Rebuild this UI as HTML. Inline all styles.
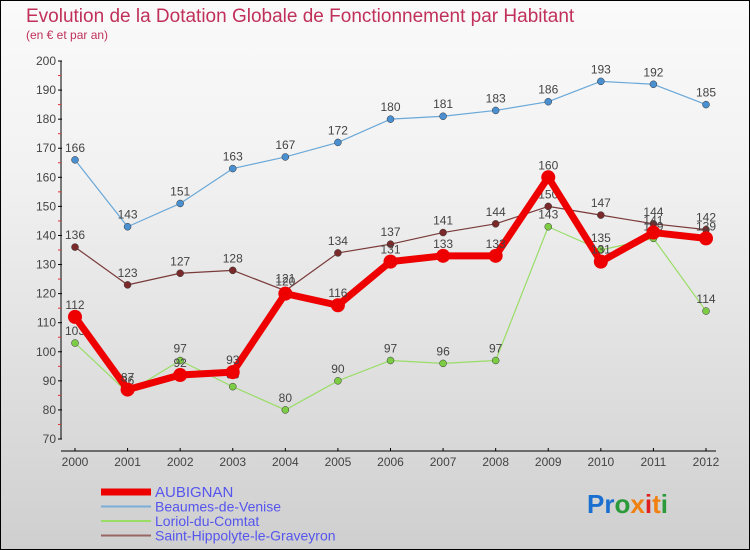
<!DOCTYPE html>
<html><head><meta charset="utf-8"><style>
body{margin:0;}
#c{position:relative;width:750px;height:550px;box-sizing:border-box;border:1px solid #000;background:linear-gradient(#fafafa,#f2f2f2 30%,#cfcfcf);font-family:"Liberation Sans",sans-serif;overflow:hidden}
svg text{font-family:"Liberation Sans",sans-serif}
</style></head><body>
<div id="c">
<svg id="s" width="750" height="550" style="position:absolute;left:-1px;top:-1px">
<text x="26" y="22" font-size="19" fill="#c0305a">Evolution de la Dotation Globale de Fonctionnement par Habitant</text>
<text x="26" y="39" font-size="12" fill="#c0305a">(en € et par an)</text>
<g id="g"></g>
<text x="587" y="513" font-size="26" font-weight="bold"><tspan fill="#1a6fd0">Pr</tspan><tspan fill="#2a9a3a">o</tspan><tspan fill="#f08010">x</tspan><tspan fill="#e02020">i</tspan><tspan fill="#f08010">t</tspan><tspan fill="#2a9a3a">i</tspan></text>
</svg>
</div>
<script>
const years=[2000,2001,2002,2003,2004,2005,2006,2007,2008,2009,2010,2011,2012];
const yTicks=[70,80,90,100,110,120,130,140,150,160,170,180,190,200];
const aubignan=[112,87,92,93,120,116,131,133,133,160,131,141,139];
const beaumes=[166,143,151,163,167,172,180,181,183,186,193,192,185];
const loriol=[103,86,97,88,80,90,97,96,97,143,135,139,114];
const hippolyte=[136,123,127,128,121,134,137,141,144,150,147,144,142];
const NS="http://www.w3.org/2000/svg";
const g=document.getElementById('g');
function X(i){return 75+i*(706-75)/(years.length-1);}
function Y(v){return 439-(v-70)*(439-61)/130;}
function el(t,a,p){const e=document.createElementNS(NS,t);for(const k in a)e.setAttribute(k,a[k]);(p||g).appendChild(e);return e;}
// axes
const ya=el('line',{x1:61,y1:Y(200),x2:61,y2:Y(70),stroke:'#000'});


const xa=el('line',{x1:61,y1:451,x2:716,y2:451,stroke:'#000'});


yTicks.forEach(v=>{
 el('line',{x1:58,y1:Y(v),x2:62,y2:Y(v),stroke:'#000'});
 if(v<200) el('line',{x1:58,y1:Y(v+5),x2:61,y2:Y(v+5),stroke:'#e03030'});
 const t=el('text',{x:56,y:Y(v)+4,'font-size':12,'text-anchor':'end',fill:'#444'});t.textContent=v;
 
 
});
years.forEach((y,i)=>{
 el('line',{x1:X(i),y1:448,x2:X(i),y2:451,stroke:'#000'});
 const t=el('text',{x:X(i),y:466,'font-size':12,'text-anchor':'middle',fill:'#444'});t.textContent=y;
 
 
});
function series(data,color,w,r,name,dot,labelDy){
 const p=el('polyline',{points:data.map((v,i)=>X(i)+','+Y(v)).join(' '),fill:'none',stroke:color,'stroke-width':w,'stroke-linejoin':'round'});
 
 
 data.forEach((v,i)=>{
  const c=el('circle',{cx:X(i),cy:Y(v),r:r,fill:dot,stroke:w>3?color:'#333','stroke-width':w>3?0:0.5});
  
  
  const t=el('text',{x:X(i),y:Y(v)-8,'font-size':12,'text-anchor':'middle',fill:'#444'});t.textContent=v;
  
  
 });
}
series(beaumes,'#6aa8d8',1.2,3.5,'beaumes','#4a90d0');
series(loriol,'#99dd66',1.2,3.5,'loriol','#7ccc44');
series(hippolyte,'#7a3a3a',1.2,3.5,'hippolyte','#7a2a2a');
series(aubignan,'#ee0000',7,7,'aubignan','#ee0000');
// legend
const leg=[['AUBIGNAN','#ee0000',7],['Beaumes-de-Venise','#7aaed8',2],['Loriol-du-Comtat','#99dd66',2],['Saint-Hippolyte-le-Graveyron','#996666',2]];
leg.forEach((l,i)=>{
 const y=492+i*14.5;
 el('line',{x1:101,y1:y,x2:151,y2:y,stroke:l[1],'stroke-width':l[2]});
 const t=el('text',{x:155,y:y+5,'font-size':i==0?15:14,fill:'#5555ee'});t.textContent=l[0];
 
 
});
</script>
</body></html>
